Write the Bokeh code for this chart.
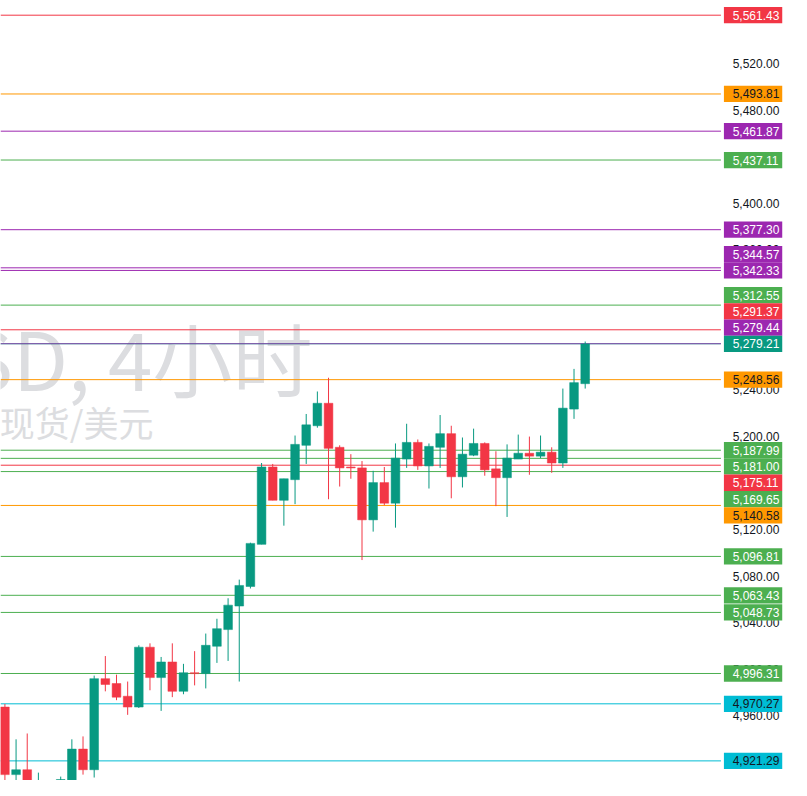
from bokeh.plotting import figure
from bokeh.models import Range1d, Label, ColumnDataSource
from bokeh.core.properties import value
from bokeh.embed import file_html
from bokeh.resources import INLINE

# ---------------- data ----------------
opens = [4967.5, 4909.5, 4913.7, 4890.0, 4893.0, 4900.0, 4898.0, 4931.4, 4913.7, 4991.9,
         4987.7, 4976.8, 4967.5, 5018.9, 4992.8, 5006.2, 4981.0, 4997.0, 4996.2, 5019.7,
         5034.0, 5054.2, 5071.0, 5107.2, 5173.6, 5145.0, 5162.7, 5192.2, 5209.0, 5228.3,
         5190.5, 5173.6, 5172.8, 5128.2, 5160.2, 5142.5, 5180.4, 5194.7, 5174.5, 5190.5,
         5202.2, 5165.2, 5183.7, 5193.8, 5172.0, 5164.4, 5180.4, 5185.4, 5182.9, 5186.3,
         5177.0, 5223.3, 5245.1]
highs = [4970.1, 4939.8, 4944.8, 4911.2, 4903.0, 4907.8, 4939.8, 4942.3, 4994.5, 5011.3,
         4995.3, 4989.4, 5020.5, 5022.2, 5010.5, 5022.2, 5004.6, 5015.5, 5030.6, 5043.3,
         5060.9, 5076.9, 5108.6, 5177.0, 5176.2, 5163.5, 5200.6, 5219.1, 5238.4, 5250.2,
         5192.2, 5184.6, 5178.7, 5170.3, 5173.6, 5193.8, 5210.7, 5197.2, 5193.8, 5218.2,
         5209.0, 5198.9, 5206.5, 5194.7, 5187.1, 5193.0, 5201.4, 5199.7, 5200.6, 5190.5,
         5240.9, 5257.8, 5281.3]
lows = [4895.0, 4897.0, 4888.0, 4885.0, 4888.0, 4896.0, 4893.0, 4909.5, 4907.0, 4981.0,
        4973.4, 4960.8, 4966.7, 4981.9, 4964.2, 4976.0, 4978.5, 4986.1, 4983.5, 5005.4,
        5007.1, 4989.4, 5069.3, 5107.2, 5145.0, 5123.2, 5141.7, 5176.2, 5207.3, 5145.9,
        5156.8, 5163.5, 5093.7, 5118.1, 5140.8, 5121.5, 5172.8, 5171.1, 5155.1, 5172.8,
        5146.7, 5156.0, 5182.9, 5166.1, 5140.0, 5130.7, 5180.4, 5166.9, 5181.2, 5168.6,
        5172.8, 5214.9, 5240.9]
closes = [4909.5, 4913.7, 4897.0, 4898.0, 4899.0, 4905.3, 4931.4, 4913.7, 4991.9, 4986.9,
          4976.0, 4967.5, 5018.9, 4992.8, 5006.2, 4981.0, 4997.0, 4996.2, 5020.5, 5034.8,
          5055.0, 5071.9, 5108.0, 5173.6, 5145.0, 5163.5, 5193.0, 5209.8, 5228.3, 5189.6,
          5172.8, 5172.8, 5128.2, 5160.2, 5142.5, 5181.2, 5194.7, 5174.5, 5191.3, 5202.2,
          5165.2, 5184.6, 5193.8, 5171.1, 5164.4, 5181.2, 5185.4, 5182.9, 5186.3, 5177.0,
          5224.1, 5246.0, 5279.21]

level_prices = [5561.43, 5493.81, 5461.87, 5437.11, 5377.30, 5344.57, 5342.33, 5312.55,
                5291.37, 5279.44, 5248.56, 5187.99, 5181.00, 5175.11, 5169.65, 5140.58,
                5096.81, 5063.43, 5048.73, 4996.31, 4970.27, 4921.29]
level_kinds = ["red", "orange", "purple", "green", "purple", "purple", "purple", "green",
               "red", "purple", "orange", "green", "green", "red", "green", "orange",
               "green", "green", "green", "green", "cyan", "cyan"]

tick_values = [4960, 5000, 5040, 5080, 5120, 5160, 5200, 5240, 5280, 5320, 5360, 5400,
               5440, 5480, 5520]

watermark_line1 = "SD, 4小时"
watermark_line2 = "现货/美元"

# ---------------- styles / layout ----------------
PALETTE = {"red": "#F23645", "orange": "#FF9800", "purple": "#9C27B0", "green": "#4CAF50",
           "cyan": "#00BCD4", "teal": "#089981"}
DARK_TEXT = {"orange", "cyan"}
UP, DOWN = "#089981", "#F23645"
AXIS_TEXT = "#131722"

W, H = 791, 780
Y_MIN, Y_MAX = 4904.45, 5574.05
BAR_PX = 11.385 * W / 807.0          # horizontal pixels per candle
X_MIN = -0.395
X_MAX = X_MIN + W / BAR_PX
S = W / 807.0                         # px scale versus a 807-wide layout
PANE_END = X_MIN + 735 * S / BAR_PX   # where the price scale column begins
TICK_X = X_MIN + 747 * S / BAR_PX
BOX_X = X_MIN + 767.8 * S / BAR_PX
BOX_W, BOX_H = 59.5 * S, 16.6 * S

p = figure(width=W, height=H,
           x_range=Range1d(X_MIN, X_MAX), y_range=Range1d(Y_MIN, Y_MAX),
           output_backend="svg", toolbar_location=None,
           x_axis_location=None, y_axis_location=None,
           min_border=0, outline_line_color=None,
           background_fill_color="white", border_fill_color="white")
p.xgrid.visible = False
p.ygrid.visible = False

# watermark, drawn beneath everything
p.add_layout(Label(x=312, y=H - 355, x_units="screen", y_units="screen",
                   text=watermark_line1, text_align="right", text_baseline="middle",
                   text_font="Noto Sans CJK SC", text_font_size="80px",
                   text_color="#DCDDE0", level="underlay"))
p.add_layout(Label(x=153, y=H - 421, x_units="screen", y_units="screen",
                   text=watermark_line2, text_align="right", text_baseline="middle",
                   text_font="Noto Sans CJK SC", text_font_size="35px",
                   text_color="#DCDDE0", level="underlay"))

# horizontal levels
n_lv = len(level_prices)
lv = ColumnDataSource(dict(x0=[X_MIN] * n_lv, x1=[PANE_END] * n_lv, y=level_prices,
                           c=[PALETTE[k_] for k_ in level_kinds]))
p.segment(x0="x0", y0="y", x1="x1", y1="y", line_color="c", line_width=1, source=lv)
cur = closes[-1]
p.segment(x0=[X_MIN], y0=[cur], x1=[PANE_END], y1=[cur], line_color=PALETTE["teal"],
          line_width=1, line_dash="1 1")

# candles
idx = list(range(len(opens)))
cols = [UP if c >= o else DOWN for o, c in zip(opens, closes)]
src = ColumnDataSource(dict(x=idx, o=opens, h=highs, l=lows, c=closes,
                            top=[max(o, c) for o, c in zip(opens, closes)],
                            bot=[min(o, c) for o, c in zip(opens, closes)],
                            col=cols))
p.segment(x0="x", y0="l", x1="x", y1="h", line_color="col", line_width=1, source=src)
p.vbar(x="x", width=0.78, top="top", bottom="bot", fill_color="col", line_color="col",
       line_width=0.5, source=src)

# price scale tick labels
p.text(x=[TICK_X] * len(tick_values), y=tick_values,
       text=[f"{t:,.2f}" for t in tick_values],
       text_align="left", text_baseline="middle", text_color=AXIS_TEXT,
       text_font=value("Liberation Sans"), text_font_size=value("12px"))

# price tags with TradingView-like stacking
k = H / (Y_MAX - Y_MIN)
entries = [(pr, kd) for pr, kd in zip(level_prices, level_kinds)] + [(cur, "teal")]
entries.sort(key=lambda e: -e[0])
ci = [i for i, e in enumerate(entries) if e[1] == "teal"][0]
nat = [(Y_MAX - e[0]) * k for e in entries]
pos = nat[:]
for i in range(ci - 1, -1, -1):
    pos[i] = min(nat[i], pos[i + 1] - BOX_H)
for i in range(ci + 1, len(entries)):
    pos[i] = max(nat[i], pos[i - 1] + BOX_H)
tag_y = [Y_MAX - s_ / k for s_ in pos]

tags = ColumnDataSource(dict(
    x=[BOX_X] * len(entries), tx=[TICK_X] * len(entries), y=tag_y,
    fill=[PALETTE[e[1]] for e in entries],
    tc=[AXIS_TEXT if e[1] in DARK_TEXT else "white" for e in entries],
    txt=[f"{e[0]:,.2f}" for e in entries]))
p.rect(x="x", y="y", width=BOX_W, height=BOX_H, width_units="screen",
       height_units="screen", fill_color="fill", line_color=None, source=tags)
p.text(x="tx", y="y", text="txt", text_color="tc", text_align="left",
       text_baseline="middle", text_font=value("Liberation Sans"),
       text_font_size=value("12px"), source=tags)

open("out.html", "w").write(file_html(p, INLINE))
